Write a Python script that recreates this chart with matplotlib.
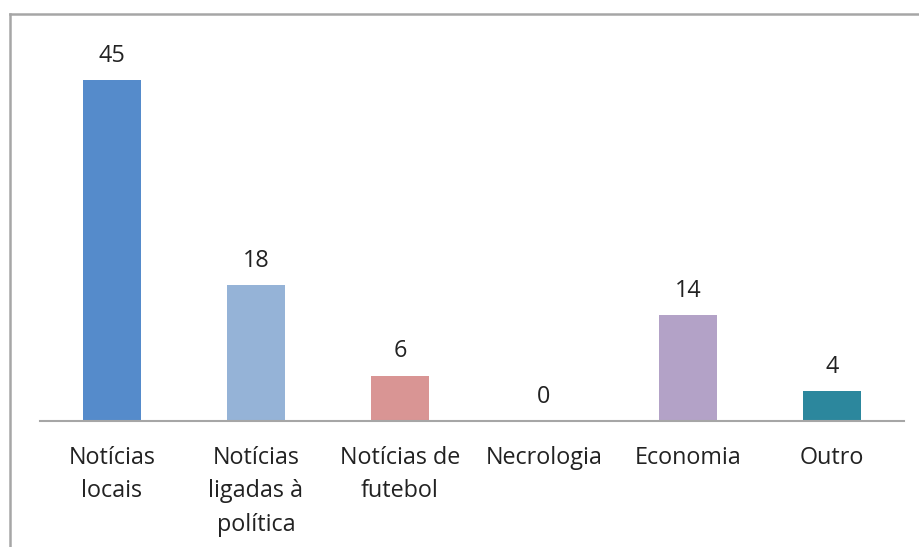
import matplotlib
matplotlib.use("Agg")
import matplotlib.pyplot as plt
from matplotlib.lines import Line2D

categories = ["Notícias\nlocais", "Notícias\nligadas à\npolítica", "Notícias de\nfutebol",
              "Necrologia", "Economia", "Outro"]
values = [45, 18, 6, 0, 14, 4]
colors = ["#558BCB", "#95B3D7", "#D99594", "#9BBB59", "#B3A2C7", "#2C879D"]

W, H = 920, 547
fig = plt.figure(figsize=(W / 100, H / 100), dpi=100)
plt.rcParams['font.family'] = ['Open Sans', 'DejaVu Sans']
FS = 16.8

# axes from x=40..904, y=42..421 (pixels from top)
ax = fig.add_axes([40 / W, 1 - 421 / H, 864 / W, (421 - 42) / H])
x = range(len(values))
bars = ax.bar(x, values, width=0.4, color=colors)
ax.set_xlim(-0.5, len(values) - 0.5)
ax.set_ylim(0, 50)
for xi, v in zip(x, values):
    ax.annotate(str(v), (xi, v), xytext=(0, 13), textcoords="offset points",
                ha="center", va="baseline", fontsize=FS, color="#222222")
ax.set_xticks(list(x))
ax.set_xticklabels(categories, fontsize=FS, color="#222222", linespacing=1.52)
ax.tick_params(axis="x", length=0, pad=18)
ax.set_yticks([])
for s in ["top", "right", "left"]:
    ax.spines[s].set_visible(False)
ax.spines["bottom"].set_color("#A6A6A6")
ax.spines["bottom"].set_linewidth(1.5)

# outer frame (left and top)
fig.add_artist(Line2D([10.5 / W, 10.5 / W], [0, 1 - 14 / H], color="#A6A6A6", lw=1.8, transform=fig.transFigure))
fig.add_artist(Line2D([10.5 / W, 1], [1 - 14 / H, 1 - 14 / H], color="#A6A6A6", lw=1.8, transform=fig.transFigure))

fig.savefig("out.png", dpi=100)
